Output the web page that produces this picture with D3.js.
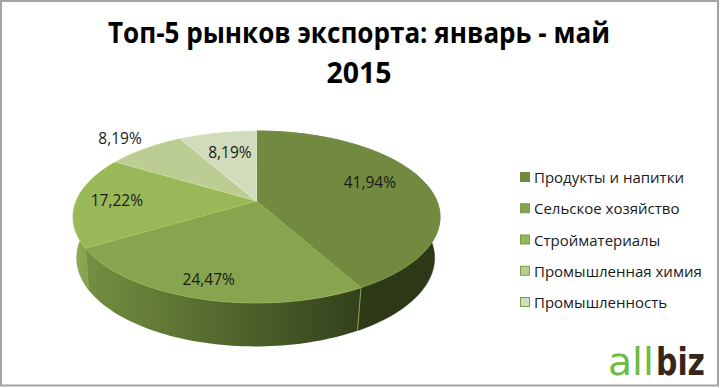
<!DOCTYPE html>
<html><head><meta charset="utf-8">
<script src="https://cdn.jsdelivr.net/npm/d3@7/dist/d3.min.js"></script>
<style>html,body{margin:0;padding:0;background:#fff}svg{display:block}text{font-family:"Open Sans",sans-serif}</style>
</head><body><svg id="c" width="720" height="388"></svg>
<script>
const titleLines = ["Топ-5 рынков экспорта: январь - май", "2015"];
const categories = ["Продукты и напитки", "Сельское хозяйство", "Стройматериалы", "Промышленная химия", "Промышленность"];
const values = [41.94, 24.47, 17.22, 8.19, 8.19];
const labels = ["41,94%", "24,47%", "17,22%", "8,19%", "8,19%"];
const colors = ["#718a40", "#87a44e", "#99b858", "#bccd94", "#d1dcbd"];
const wallLeft = ["#2f3a18", "#738f40", "#8fae52", "#8aa84e", "#8aa84e"];
const wallRight = ["#2d3817", "#33411b", "#6a8640", "#8aa84e", "#8aa84e"];

const svg = d3.select("#c");
const defs = svg.append("defs");
const W = 720, H = 388;

svg.append("rect").attr("x", 0).attr("y", 0).attr("width", W).attr("height", H).attr("fill", "#fff");
svg.append("rect").attr("x", 1).attr("y", 1).attr("width", 717).attr("height", 384.5)
  .attr("fill", "#fff").attr("stroke", "#a3a3a3").attr("stroke-width", 2);

const pie = d3.pie().sort(null).value(d => d)(values);

// Perspective view of a circular disc
const persp = -0.186;
const topFace = {cx: 256.5, cy: 201, sx: 180.3, sy: 83};
const baseFace = {cx: 255.5, cy: 241.5, sx: 176, sy: 85.4};
const project = (f, a, r = 1) => {
  const x = Math.sin(a) * r, y = -Math.cos(a) * r, d = 1 + persp * y;
  return [f.cx + f.sx * x / d, f.cy + f.sy * y / d];
};
const arcAngles = (a0, a1) => d3.range(0, 61).map(i => a0 + (a1 - a0) * i / 60);
const line = d3.line();

// side wall
pie.forEach((s, i) => {
  const id = "w" + i;
  const as = arcAngles(s.startAngle, s.endAngle);
  const pts = as.map(a => project(topFace, a)).concat(as.slice().reverse().map(a => project(baseFace, a)));
  const xr = d3.extent(pts, p => p[0]);
  const g = defs.append("linearGradient").attr("id", id).attr("gradientUnits", "userSpaceOnUse")
    .attr("x1", xr[0]).attr("x2", xr[1]).attr("y1", 0).attr("y2", 0);
  g.append("stop").attr("offset", 0).attr("stop-color", wallLeft[i]);
  g.append("stop").attr("offset", 1).attr("stop-color", wallRight[i]);
  svg.append("path").attr("d", line(pts) + "Z").attr("fill", `url(#${id})`)
    .attr("stroke", i === 0 ? "#2d3817" : "none").attr("stroke-width", 0.5);
});
// seams on the wall
[pie[0].endAngle, pie[1].endAngle].forEach(a => {
  svg.append("path").attr("d", line([project(topFace, a), project(baseFace, a)]))
    .attr("stroke", "#8aa553").attr("stroke-width", 1).attr("fill", "none");
});

// top face
pie.forEach((s, i) => {
  const pts = [project(topFace, 0, 0)].concat(arcAngles(s.startAngle, s.endAngle).map(a => project(topFace, a)));
  svg.append("path").attr("d", line(pts) + "Z").attr("fill", colors[i])
    .attr("stroke", d3.color(colors[i]).brighter(0.25)).attr("stroke-width", 0.8).attr("stroke-linejoin", "round");
});

// value labels, placed on a radius in the disc plane
const labelSpots = [[0.699, -0.096], [0.831, 0.013], [0.777, 0.02], [1.248, -0.012], [0.683, 0.012]];
pie.forEach((s, i) => {
  const mid = (s.startAngle + s.endAngle) / 2 + labelSpots[i][1];
  const p = project(topFace, mid, labelSpots[i][0]);
  svg.append("text").attr("x", p[0]).attr("y", p[1]).attr("text-anchor", "middle")
    .attr("dominant-baseline", "central").attr("font-size", 15.5).attr("fill", "#1a1a1a").text(labels[i]);
});

// title
const titleY = d3.scalePoint().domain(titleLines).range([43, 83]);
const titleLen = [502, 65];
titleLines.forEach((t, i) => {
  svg.append("text").attr("x", 359).attr("y", titleY(t)).attr("text-anchor", "middle")
    .attr("font-size", 29).attr("font-weight", 700).attr("fill", "#000")
    .attr("textLength", titleLen[i]).attr("lengthAdjust", "spacingAndGlyphs").text(t);
});

// legend
const legendY = d3.scalePoint().domain(categories).range([177, 302]);
categories.forEach((c, i) => {
  svg.append("rect").attr("x", 520.5).attr("y", legendY(c) - 4.5).attr("width", 9).attr("height", 9)
    .attr("fill", colors[i]).attr("stroke", i === 0 ? colors[0] : "#7d9a46").attr("stroke-width", 1);
  svg.append("text").attr("x", 534).attr("y", legendY(c)).attr("dominant-baseline", "central")
    .attr("font-size", 15).attr("fill", "#1a1a1a").text(c);
});

// logo
const logoFont = "'DejaVu Sans',sans-serif";
svg.append("text").attr("x", 608).attr("y", 375).attr("font-size", 37).attr("fill", "#6dbb3f")
  .attr("textLength", 46).attr("lengthAdjust", "spacingAndGlyphs").style("font-family", logoFont).text("all");
svg.append("text").attr("x", 656).attr("y", 375).attr("font-size", 37).attr("font-weight", 700).attr("fill", "#35251a")
  .attr("textLength", 49).attr("lengthAdjust", "spacingAndGlyphs").style("font-family", logoFont).text("biz");
</script></body></html>
